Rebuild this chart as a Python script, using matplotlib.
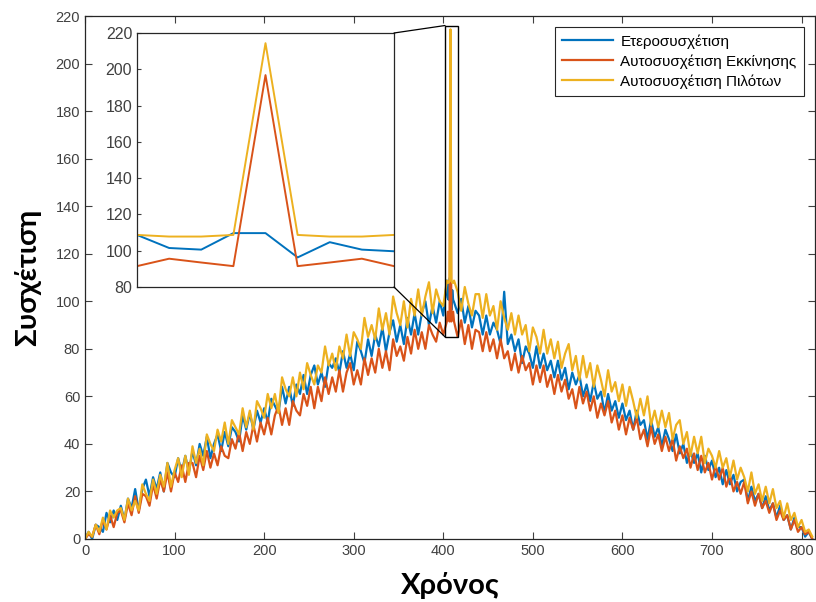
import numpy as np
import matplotlib
matplotlib.use("Agg")
import matplotlib.pyplot as plt
from matplotlib.patches import Rectangle, ConnectionPatch

# samples every 4 time units, 0..812
x_step = 4
x_last = 812
x_max = 815

hetero = [
    0, 3, 0, 6, 5, 3, 11, 7, 12, 8,
    14, 8, 17, 13, 21, 12, 21, 25, 18, 26,
    21, 28, 20, 32, 28, 26, 34, 28, 35, 28,
    37, 31, 40, 35, 43, 34, 40, 44, 37, 45,
    39, 47, 45, 41, 52, 46, 53, 46, 54, 49,
    55, 49, 59, 56, 53, 64, 57, 64, 56, 65,
    61, 69, 61, 69, 73, 65, 70, 64, 74, 72,
    76, 70, 79, 72, 78, 71, 83, 79, 74, 84,
    77, 86, 81, 89, 79, 87, 92, 83, 90, 82,
    93, 86, 95, 86, 95, 100, 90, 98, 91, 100,
    94, 108.7, 109.7, 99.7, 95, 101, 91, 98, 89, 96,
    94, 86, 94, 86, 91, 88, 82, 104, 82, 86,
    79, 84, 74, 81, 78, 72, 81, 72, 78, 71,
    75, 68, 75, 67, 72, 63, 70, 65, 69, 60,
    65, 58, 66, 59, 62, 53, 61, 54, 58, 51,
    57, 50, 54, 46, 54, 48, 50, 42, 50, 43,
    47, 39, 46, 42, 37, 44, 36, 40, 32, 37,
    32, 36, 28, 35, 29, 33, 26, 30, 23, 29,
    23, 27, 20, 24, 25, 16, 22, 16, 19, 13,
    18, 12, 15, 9, 14, 8, 10, 4, 9, 5,
    5, 1, 3, 0,
]

auto_start = [
    0, 2, 1, 6, 2, 8, 4, 10, 5, 11,
    12, 7, 15, 10, 18, 11, 19, 18, 14, 23,
    17, 25, 20, 28, 20, 28, 24, 31, 24, 32,
    32, 26, 35, 29, 37, 30, 36, 31, 39, 35,
    34, 42, 38, 45, 37, 45, 40, 48, 41, 49,
    44, 51, 44, 52, 56, 48, 55, 48, 58, 54,
    52, 61, 56, 64, 55, 64, 58, 68, 61, 68,
    62, 71, 62, 70, 74, 65, 71, 65, 76, 69,
    76, 70, 80, 72, 79, 71, 84, 77, 81, 75,
    85, 78, 88, 80, 87, 80, 90, 86, 83, 91,
    86, 91.5, 196.8, 91.5, 85, 92, 82, 90, 80, 88,
    87, 79, 87, 79, 84, 76, 84, 76, 79, 71,
    78, 70, 77, 71, 74, 65, 73, 66, 73, 64,
    69, 61, 69, 62, 67, 59, 63, 55, 64, 57,
    62, 54, 60, 51, 57, 52, 58, 49, 54, 46,
    52, 44, 51, 46, 51, 42, 46, 39, 47, 40,
    44, 37, 43, 37, 42, 33, 39, 34, 38, 30,
    36, 29, 35, 28, 32, 25, 31, 25, 30, 22,
    27, 20, 24, 19, 24, 15, 20, 14, 19, 13,
    16, 11, 15, 8, 12, 8, 10, 4, 8, 3,
    5, 2, 3, 0,
]

auto_pilot = [
    0, 3, 1, 6, 3, 9, 4, 12, 9, 12,
    13, 8, 17, 12, 16, 12, 23, 19, 16, 25,
    19, 27, 22, 32, 22, 29, 34, 26, 35, 27,
    39, 32, 38, 31, 44, 40, 37, 46, 41, 49,
    40, 50, 47, 44, 55, 47, 54, 46, 58, 55,
    51, 61, 55, 61, 53, 68, 63, 60, 68, 60,
    70, 63, 74, 69, 65, 73, 70, 81, 73, 78,
    71, 81, 76, 86, 77, 87, 84, 80, 93, 85,
    90, 84, 97, 88, 95, 86, 102, 95, 90, 100,
    89, 101, 94, 105, 94, 102, 108, 95, 105, 100,
    98, 108.7, 214.4, 108.7, 104, 96, 106, 99, 94, 103,
    103, 93, 103, 94, 98, 88, 100, 93, 88, 95,
    86, 94, 86, 90, 79, 89, 85, 78, 88, 78,
    84, 76, 83, 72, 78, 82, 71, 77, 67, 77,
    68, 74, 64, 73, 67, 60, 71, 62, 66, 58,
    65, 56, 64, 58, 51, 59, 52, 60, 48, 54,
    47, 54, 47, 53, 42, 48, 50, 40, 45, 35,
    43, 36, 43, 32, 38, 35, 30, 37, 30, 34,
    26, 33, 25, 30, 26, 20, 28, 19, 23, 16,
    22, 15, 21, 13, 16, 9, 15, 8, 11, 5,
    8, 3, 4, 1,
]

# full-rate samples around the pilot peak (t = 404..412)
peak_t = [404, 405, 406, 407, 408, 409, 410, 411, 412]
peak_hetero = [108.7, 101.5, 100.6, 109.7, 109.7, 96.3, 104.7, 100.6, 99.7]
peak_start = [91.5, 95.6, 93.5, 91.5, 196.8, 91.5, 93.5, 95.6, 91.5]
peak_pilot = [108.7, 107.8, 107.8, 108.7, 214.4, 108.7, 107.8, 107.8, 108.7]

labels = ['Ετεροσυσχέτιση', 'Αυτοσυσχέτιση Εκκίνησης', 'Αυτοσυσχέτιση Πιλότων']
colors = ['#0072BD', '#D95319', '#EDB120']


def merge(coarse, fine):
    t = np.arange(0, x_last + 1, x_step)
    keep = (t < peak_t[0]) | (t > peak_t[-1])
    tt = np.concatenate([t[keep], peak_t])
    yy = np.concatenate([np.asarray(coarse, float)[keep], fine])
    order = np.argsort(tt)
    return tt[order], yy[order]


series = [merge(hetero, peak_hetero),
          merge(auto_start, peak_start),
          merge(auto_pilot, peak_pilot)]

tick_font = 'Liberation Sans'
label_font = 'Lato'
grey = '#404040'

fig = plt.figure(figsize=(8.16, 6.02), dpi=100)
ax = fig.add_axes([85 / 816, 63 / 602, 730 / 816, 523 / 602])
for (t, y), c, lab in zip(series, colors, labels):
    ax.plot(t, y, color=c, lw=1.6, label=lab)
ax.set_xlim(0, x_max)
ax.set_ylim(0, 220)
ax.set_xticks(np.arange(0, 801, 100))
ax.set_yticks(np.arange(0, 221, 20))
ax.tick_params(direction='in', length=5, width=0.8, colors=grey,
               top=True, right=True, labelsize=10.5)
for lbl in ax.get_xticklabels() + ax.get_yticklabels():
    lbl.set_fontfamily(tick_font)
for s in ax.spines.values():
    s.set_color('#262626')
    s.set_linewidth(0.9)
ax.set_xlabel('Χρόνος', fontsize=21, fontweight='bold', family=label_font, labelpad=10)
ax.set_ylabel('Συσχέτιση', fontsize=21, fontweight='bold', family=label_font, labelpad=10)

leg = ax.legend(loc='upper right', prop={'family': tick_font, 'size': 11},
                fancybox=False, edgecolor='#262626', framealpha=1,
                handlelength=3.3, handletextpad=0.5, borderaxespad=0.7,
                labelspacing=0.35, borderpad=0.5)
leg.get_frame().set_linewidth(0.8)

# zoom window around the pilot peak
win_x0, win_x1 = 402, 416
win_y0, win_y1 = 85, 216
ax.add_patch(Rectangle((win_x0, win_y0), win_x1 - win_x0, win_y1 - win_y0,
                       fill=False, ec='black', lw=1.0, zorder=5))

ins = fig.add_axes([137 / 816, 315 / 602, 257 / 816, 254 / 602])
for y, c in zip([peak_hetero, peak_start, peak_pilot], colors):
    ins.plot(peak_t, y, color=c, lw=1.4)
ins.set_xlim(peak_t[0], peak_t[-1])
ins.set_ylim(80, 220)
ins.set_xticks([])
ins.set_yticks(np.arange(80, 221, 20))
ins.tick_params(direction='in', length=3, colors=grey, labelsize=11.5)
for lbl in ins.get_yticklabels():
    lbl.set_fontfamily(tick_font)
for s in ins.spines.values():
    s.set_color('#262626')
    s.set_linewidth(0.9)

for (xa, ya), (xb, yb) in [((1, 1), (win_x0, win_y1)), ((1, 0), (win_x0, win_y0))]:
    cp = ConnectionPatch(xyA=(xa, ya), coordsA=ins.transAxes,
                         xyB=(xb, yb), coordsB=ax.transData,
                         color='black', lw=0.9)
    fig.add_artist(cp)

fig.savefig('out.png', dpi=100)
